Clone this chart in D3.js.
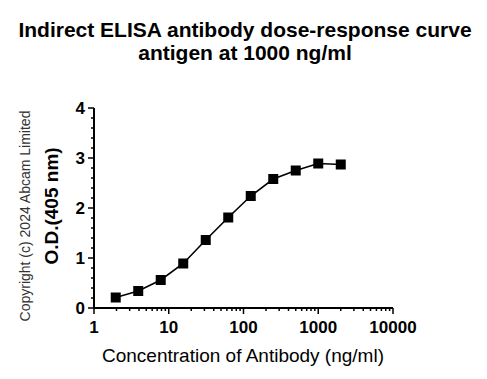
<!DOCTYPE html>
<html><head><meta charset="utf-8">
<script src="https://cdn.jsdelivr.net/npm/d3@7"></script>
<style>body{margin:0;background:#fff;}svg{display:block;font-family:Arial,"Liberation Sans",sans-serif;}</style>
</head><body>
<script>
const concentrations = [1.953, 3.906, 7.8125, 15.625, 31.25, 62.5, 125, 250, 500, 1000, 2000];
const odValues = [0.21, 0.34, 0.56, 0.89, 1.36, 1.81, 2.24, 2.58, 2.75, 2.89, 2.87];
const xTicks = [1, 10, 100, 1000, 10000];
const yTicks = [0, 1, 2, 3, 4];
const titleLines = ["Indirect ELISA antibody dose-response curve", "antigen at 1000 ng/ml"];

const W = 487, H = 379;
const svg = d3.select("body").append("svg").attr("width", W).attr("height", H);
const x = d3.scaleLog().domain([1, 10000]).range([94, 393]);
const y = d3.scaleLinear().domain([0, 4]).range([308, 108]);

// title
svg.append("g").selectAll("text").data(titleLines).join("text")
  .attr("x", 245).attr("y", (d, i) => 37 + i * 23)
  .attr("text-anchor", "middle").attr("font-size", 21).attr("font-weight", "bold")
  .attr("fill", "#000").text(d => d);

// y axis
const yMinor = d3.range(0, 4.001, 0.2);
const ay = svg.append("g");
ay.append("line").attr("x1", 94).attr("x2", 94).attr("y1", y(4)).attr("y2", y(0)).attr("stroke", "#000").attr("stroke-width", 2);
ay.selectAll("line.mn").data(yMinor).join("line").attr("class", "mn")
  .attr("x1", 94).attr("x2", d => yTicks.includes(Math.round(d*1000)/1000) ? 88 : 91)
  .attr("y1", d => y(d)).attr("y2", d => y(d)).attr("stroke", "#000").attr("stroke-width", 1.5);
ay.selectAll("text").data(yTicks).join("text")
  .attr("x", 85).attr("y", d => y(d)).attr("dy", "0.36em").attr("text-anchor", "end")
  .attr("font-size", 17).attr("font-weight", "bold").text(d => d);

// x axis
const xMinor = [];
for (let e = 0; e < 4; e++) for (let m = 1; m < 10; m++) xMinor.push(m * Math.pow(10, e));
xMinor.push(10000);
const ax = svg.append("g");
ax.append("line").attr("x1", x(1) - 1).attr("x2", x(10000)).attr("y1", 308).attr("y2", 308).attr("stroke", "#000").attr("stroke-width", 2);
ax.selectAll("line.mn").data(xMinor).join("line").attr("class", "mn")
  .attr("x1", d => x(d)).attr("x2", d => x(d))
  .attr("y1", 308).attr("y2", d => xTicks.includes(d) ? 314 : 311)
  .attr("stroke", "#000").attr("stroke-width", 1.5);
ax.selectAll("text").data(xTicks).join("text")
  .attr("x", d => x(d)).attr("y", 333).attr("text-anchor", "middle")
  .attr("font-size", 17).attr("font-weight", "bold").text(d => d);

// axis labels
svg.append("text").attr("x", 243).attr("y", 362).attr("text-anchor", "middle")
  .attr("font-size", 19).text("Concentration of Antibody (ng/ml)");
svg.append("text").attr("transform", "translate(58,206) rotate(-90)").attr("text-anchor", "middle")
  .attr("font-size", 19).attr("font-weight", "bold").text("O.D.(405 nm)");
svg.append("text").attr("transform", "translate(30,216) rotate(-90)").attr("text-anchor", "middle")
  .attr("font-size", 14).attr("fill", "#333").text("Copyright (c) 2024 Abcam Limited");

// data
const pts = concentrations.map((c, i) => [c, odValues[i]]);
svg.append("path").datum(pts).attr("fill", "none").attr("stroke", "#000").attr("stroke-width", 1.6)
  .attr("d", d3.line().x(d => x(d[0])).y(d => y(d[1])));
svg.append("g").selectAll("rect").data(pts).join("rect")
  .attr("x", d => x(d[0]) - 5).attr("y", d => y(d[1]) - 5).attr("width", 10).attr("height", 10).attr("fill", "#000");
</script>
</body></html>
